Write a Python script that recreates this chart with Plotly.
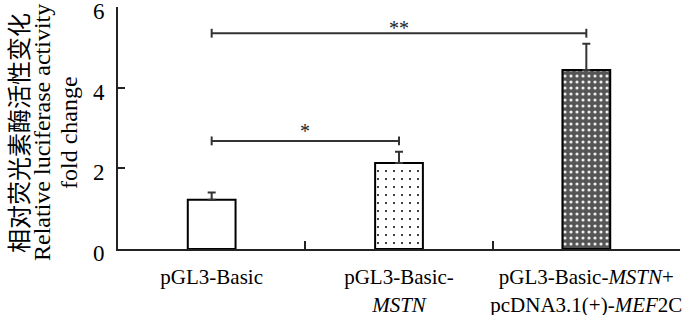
import plotly.graph_objects as go

categories = ["pGL3-Basic", "pGL3-Basic-MSTN", "pGL3-Basic-MSTN+pcDNA3.1(+)-MEF2C"]
tick_labels = ["pGL3-Basic", "pGL3-Basic-<br><i>MSTN</i>",
               "pGL3-Basic-<i>MSTN</i>+<br>pcDNA3.1(+)-<i>MEF</i>2C"]
values = [1.22, 2.13, 4.44]
errors = [0.18, 0.28, 0.65]
# brackets: (start category index, end category index, height, label)
brackets = [(0, 1, 2.68, "*"), (0, 2, 5.35, "**")]
y_ticks = [0, 2, 4, 6]
y_title_lines = ["相对荧光素酶活性变化", "Relative luciferase activity", "fold change"]

serif = "Liberation Serif, Times New Roman, serif"

bar_styles = [
    dict(color="white", pattern=dict(shape="")),
    dict(color="white", pattern=dict(shape=".", bgcolor="white", fgcolor="black",
                                     size=8, solidity=0.05, fillmode="replace")),
    dict(color="#555555", pattern=dict(shape=".", bgcolor="#555555", fgcolor="#eeeeee",
                                       size=6, solidity=0.22, fillmode="replace")),
]

fig = go.Figure()
for i, (c, v, e) in enumerate(zip(categories, values, errors)):
    st = bar_styles[i]
    fig.add_trace(go.Bar(
        x=[c], y=[v], width=0.255,
        marker=dict(color=st["color"], line=dict(color="black", width=2),
                    pattern=st["pattern"]),
        error_y=dict(type="data", symmetric=False, array=[e], arrayminus=[0],
                     color="#333333", thickness=2, width=4),
        showlegend=False, hoverinfo="skip",
    ))

shapes = []
annotations = []
star_shift = {"*": 13, "**": 8}
for a, b, h, lab in brackets:
    shapes.append(dict(type="line", xref="x", yref="y", x0=a, x1=b, y0=h, y1=h,
                       line=dict(color="#333333", width=2)))
    for xe in (a, b):
        shapes.append(dict(type="line", xref="x", yref="y", x0=xe, x1=xe,
                           y0=h - 0.11, y1=h + 0.11,
                           line=dict(color="#333333", width=2)))
    annotations.append(dict(x=(a + b) / 2, y=h, xref="x", yref="y", text=lab,
                            showarrow=False, yanchor="middle",
                            yshift=star_shift[lab] - 3,
                            font=dict(family=serif, size=20, color="#222")))

title_fonts = ["Noto Sans CJK SC", serif, serif]
title_sizes = [24, 24, 24]
title_x = [-101, -76, -49]
for txt, fam, sz, xs in zip(y_title_lines, title_fonts, title_sizes, title_x):
    annotations.append(dict(x=0, y=0.5, xref="paper", yref="paper", text=txt,
                            textangle=-90, showarrow=False, xanchor="center",
                            yanchor="middle", xshift=xs, yshift=-5,
                            font=dict(family=fam, size=sz, color="black")))

fig.update_layout(
    width=700, height=315,
    margin=dict(l=118, r=20, t=7, b=66),
    paper_bgcolor="white", plot_bgcolor="white",
    shapes=shapes, annotations=annotations,
    barmode="overlay", bargap=0,
    xaxis=dict(type="category", range=[-0.5, 2.5], tickmode="array",
               tickvals=categories, ticktext=tick_labels, tickangle=0,
               tickson="boundaries", ticks="inside",
               ticklen=8, tickwidth=2, tickcolor="#222",
               showline=True, linecolor="#222", linewidth=2,
               showgrid=False, zeroline=False, ticklabelstandoff=8,
               automargin=False, ticklabeloverflow="allow",
               tickfont=dict(family=serif, size=21, color="black")),
    yaxis=dict(range=[0, 6], tickvals=y_ticks, ticks="inside", ticklen=7,
               tickwidth=2, tickcolor="#222", showline=True, linecolor="#222",
               linewidth=2, showgrid=False, zeroline=False,
               ticklabelstandoff=7, ticklabelshift=4,
               automargin=False, ticklabeloverflow="allow",
               tickfont=dict(family=serif, size=23, color="black")),
)

fig.write_html("out.html", config={"displayModeBar": False, "staticPlot": True},
               post_script="document.body.style.margin='0';")
